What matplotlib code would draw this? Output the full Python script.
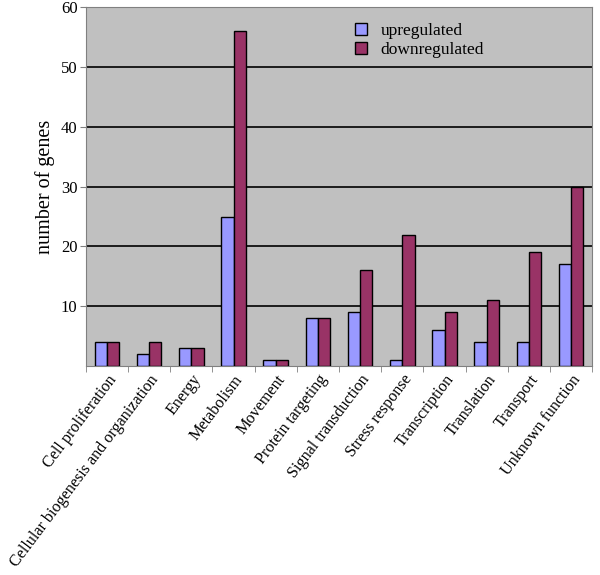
import numpy as np
import matplotlib
matplotlib.use('Agg')
import matplotlib.pyplot as plt

plt.rcParams['font.family'] = ['Liberation Serif', 'DejaVu Serif']

categories = ['Cell proliferation', 'Cellular biogenesis and organization', 'Energy',
              'Metabolism', 'Movement', 'Protein targeting', 'Signal transduction',
              'Stress response', 'Transcription', 'Translation', 'Transport',
              'Unknown function']
upregulated = [4, 2, 3, 25, 1, 8, 9, 1, 6, 4, 4, 17]
downregulated = [4, 4, 3, 56, 1, 8, 16, 22, 9, 11, 19, 30]

fig = plt.figure(figsize=(6, 5.75), dpi=100)
ax = fig.add_axes([0.143, 0.363, 0.844, 0.625])
ax.set_facecolor('#c0c0c0')

x = np.arange(len(categories))
width = 0.29
ax.bar(x - width/2, upregulated, width, color='#9999ff', edgecolor='black',
       linewidth=1, label='upregulated', zorder=3)
ax.bar(x + width/2, downregulated, width, color='#993366', edgecolor='black',
       linewidth=1, label='downregulated', zorder=3)

ax.set_xlim(-0.5, len(categories) - 0.5)
ax.set_ylim(0, 60)
ax.set_yticks([10, 20, 30, 40, 50, 60])
ax.set_yticklabels(['10', '20', '30', '40', '50', '60'], fontsize=12)
for y in [10, 20, 30, 40, 50]:
    ax.axhline(y, color='black', linewidth=1.2, zorder=1)

ax.set_xticks(x)
ax.set_xticklabels(categories, rotation=53, ha='right', rotation_mode='anchor',
                   fontsize=11.6)
ax.tick_params(axis='x', length=0, pad=4)
ax.set_xticks(np.arange(-0.5, len(categories)), minor=True)
ax.tick_params(axis='x', which='minor', length=4, color='#808080')
ax.tick_params(axis='y', length=4, color='#808080', pad=2)

for s in ax.spines.values():
    s.set_color('#808080')

ax.set_ylabel('number of genes', fontsize=14.5, labelpad=4)

ax.legend(loc='upper left', bbox_to_anchor=(0.50, 1.0), frameon=False,
          fontsize=12.5, handlelength=0.7, handleheight=0.7, handletextpad=0.8,
          labelspacing=0.2)

fig.savefig('out.png', dpi=100)
